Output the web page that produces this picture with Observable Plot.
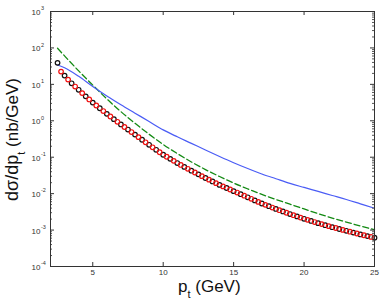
<!DOCTYPE html>
<html><head><meta charset="utf-8">
<script src="https://cdn.jsdelivr.net/npm/d3@7"></script>
<script src="https://cdn.jsdelivr.net/npm/@observablehq/plot@0.6"></script>
<style>body{margin:0;background:#fff}svg{display:block}</style>
</head><body><div id="chart"></div>
<script>
// black circles
const blackX = [2.5,3,3.5,4,4.5,5,5.5,6,6.5,7,7.5,8,8.5,9,9.5,10,10.5,11,11.5,12,12.5,13,13.5,14,14.5,15,15.5,16,16.5,17,17.5,18,18.5,19,19.5,20,20.5,21,21.5,22,22.5,23,23.5,24,24.5,25];
const blackY = [38.9,17.4,10.7,7.08,4.68,3.16,2.21,1.55,1.11,0.794,0.575,0.417,0.302,0.219,0.160,0.117,0.0902,0.0692,0.0543,0.0427,0.0339,0.0269,0.0216,0.0174,0.0143,0.0117,0.00966,0.00794,0.00653,0.00537,0.00452,0.00380,0.00324,0.00275,0.00237,0.00204,0.00178,0.00155,0.00136,0.00120,0.00107,0.000955,0.000851,0.000759,0.000684,0.000617];
// red circles
const redX = [2.75,3.25,3.75,4.25,4.75,5.25,5.75,6.25,6.75,7.25,7.75,8.25,8.75,9.25,9.75,10.25,10.75,11.25,11.75,12.25,12.75,13.25,13.75,14.25,14.75,15.25,15.75,16.25,16.75,17.25,17.75,18.25,18.75,19.25,19.75,20.25,20.75,21.25,21.75,22.25,22.75,23.25,23.75,24.25,24.75];
const redY = [22.4,13.5,8.71,5.75,3.85,2.63,1.85,1.31,0.938,0.676,0.490,0.355,0.257,0.187,0.137,0.103,0.0794,0.0614,0.0481,0.0380,0.0302,0.0242,0.0194,0.0158,0.0130,0.0107,0.00877,0.00721,0.00593,0.00493,0.00415,0.00351,0.00299,0.00256,0.00220,0.00191,0.00166,0.00146,0.00128,0.00114,0.00101,0.000902,0.000804,0.000721,0.000650];
// curves
const lineX = [2.5,3,4,5,6,7,8,9,10,11,12,13,14,15,16,17,18,19,20,21,22,23,24,25];
const blueY = [34.0,28.5,16.6,8.71,4.79,2.75,1.62,0.955,0.562,0.363,0.240,0.158,0.105,0.0708,0.0490,0.0347,0.0257,0.0191,0.0148,0.0115,0.00891,0.00692,0.00525,0.00398];
const greenY = [97.7,60.3,23.4,9.55,3.98,1.78,0.851,0.427,0.224,0.126,0.0741,0.0457,0.0295,0.0195,0.0135,0.00955,0.00692,0.00513,0.00380,0.00282,0.00214,0.00166,0.00129,0.00102];
// ticks
const xTicks = [5,10,15,20,25];
const yExps = [-4,-3,-2,-1,0,1,2,3];
const yTicks = yExps.map(e => Math.pow(10, e));
const yMinor = [];
for (let e = -4; e < 3; e++) for (let k = 2; k <= 9; k++) yMinor.push(k * Math.pow(10, e));

const black = blackX.map((x, i) => ({x, y: blackY[i]}));
const red = redX.map((x, i) => ({x, y: redY[i]}));
const blue = lineX.map((x, i) => ({x, y: blueY[i]}));
const green = lineX.map((x, i) => ({x, y: greenY[i]}));

const W = 382, H = 302, mL = 50, mR = 8, mT = 11, mB = 36;
const fw = W - mL - mR, fh = H - mT - mB;

const chart = Plot.plot({
  width: W, height: H,
  marginLeft: mL, marginRight: mR, marginTop: mT, marginBottom: mB,
  style: {fontFamily: "Liberation Sans, Arial, sans-serif", background: "#fff", color: "#333"},
  x: {domain: [2, 25], axis: null},
  y: {type: "log", domain: [1e-4, 1e3], axis: null},
  marks: [
    Plot.line(green, {x: "x", y: "y", stroke: "#138a13", strokeWidth: 1.3, strokeDasharray: "6,3", curve: "monotone-x"}),
    Plot.line(blue, {x: "x", y: "y", stroke: "#4a5cf5", strokeWidth: 1.2, curve: "monotone-x"}),
    Plot.dot(black, {x: "x", y: "y", r: 2.3, stroke: "#111", strokeWidth: 1.2}),
    Plot.dot(red, {x: "x", y: "y", r: 2.3, stroke: "#f21010", strokeWidth: 1.2}),
    Plot.tickX(xTicks, {x: d => d, insetTop: fh - 4, stroke: "#333"}),
    Plot.tickX(xTicks, {x: d => d, insetBottom: fh - 4, stroke: "#333"}),
    Plot.tickY(yTicks, {y: d => d, insetRight: fw - 4, stroke: "#333"}),
    Plot.tickY(yTicks, {y: d => d, insetLeft: fw - 4, stroke: "#333"}),
    Plot.tickY(yMinor, {y: d => d, insetRight: fw - 2, stroke: "#555"}),
    Plot.tickY(yMinor, {y: d => d, insetLeft: fw - 2, stroke: "#555"}),
    Plot.frame({stroke: "#333"}),
    Plot.text(xTicks, {x: d => d, text: d => String(d), frameAnchor: "bottom", dy: 8, fontSize: 8, fill: "#333"}),
    Plot.text(yTicks, {y: d => d, text: () => "10", frameAnchor: "left", textAnchor: "end", dx: -10, dy: 1, fontSize: 8, fill: "#333"}),
    Plot.text(yTicks, {y: d => d, text: (d, i) => String(yExps[i]), frameAnchor: "left", textAnchor: "start", dx: -9.6, dy: -3, fontSize: 5.5, fill: "#333"})
  ]
});
document.getElementById("chart").appendChild(chart);

const svg = d3.select(chart);
const xl = svg.append("text").attr("x", 178).attr("y", 292).attr("text-anchor", "start")
  .attr("font-size", 17).attr("fill", "#111").attr("font-family", "Liberation Sans, Arial, sans-serif");
xl.append("tspan").text("p");
xl.append("tspan").attr("dy", 6).attr("font-size", 11).text("t");
xl.append("tspan").attr("dy", -6).text(" (GeV)");

const yl = svg.append("text").attr("transform", "translate(18,78) rotate(-90)")
  .attr("text-anchor", "end").attr("font-size", 17).attr("fill", "#111")
  .attr("font-family", "Liberation Sans, Arial, sans-serif");
yl.append("tspan").attr("font-size", 18).text("dσ/dp");
yl.append("tspan").attr("dy", 7).attr("font-size", 11).text("t");
yl.append("tspan").attr("dy", -7).text(" (nb/GeV)");
</script>
</body></html>
